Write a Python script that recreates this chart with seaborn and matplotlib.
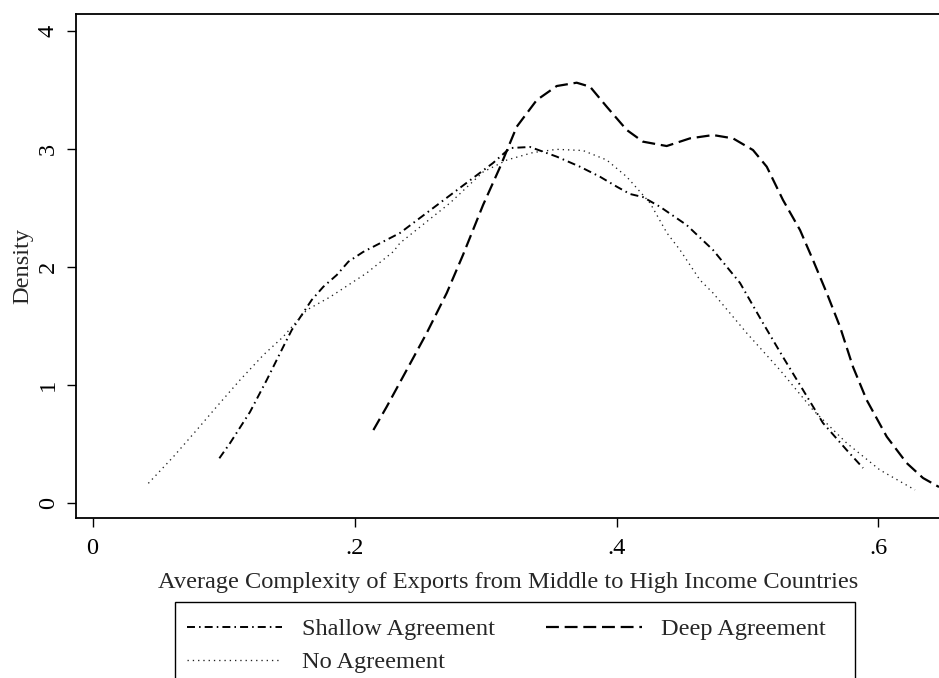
import matplotlib
matplotlib.use("Agg")
import matplotlib.pyplot as plt
import seaborn as sns
import pandas as pd
from matplotlib.patches import Rectangle

# ---- data ----
shallow_x = [0.0968, 0.1050, 0.1202, 0.1330, 0.1456, 0.1521, 0.1597, 0.1673, 0.1762,
             0.1864, 0.1953, 0.2065, 0.2347, 0.2752, 0.3057, 0.3187, 0.3340, 0.3544,
             0.3721, 0.3874, 0.4002, 0.4103, 0.4202, 0.4332, 0.4536, 0.4737, 0.4943,
             0.5118, 0.5271, 0.5424, 0.5576, 0.5757, 0.5882]
shallow_y = [0.381, 0.510, 0.773, 1.044, 1.325, 1.467, 1.594, 1.721, 1.833,
             1.932, 2.045, 2.127, 2.288, 2.626, 2.880, 3.007, 3.016, 2.934,
             2.849, 2.764, 2.680, 2.618, 2.592, 2.510, 2.355, 2.144, 1.865,
             1.526, 1.238, 0.959, 0.680, 0.451, 0.299]

deep_x = [0.2144, 0.2246, 0.2398, 0.2551, 0.2704, 0.2828, 0.2981, 0.3111, 0.3238,
          0.3391, 0.3544, 0.3696, 0.3798, 0.3925, 0.4078, 0.4202, 0.4383, 0.4561,
          0.4737, 0.4889, 0.5042, 0.5147, 0.5271, 0.5401, 0.5500, 0.5605, 0.5706,
          0.5805, 0.5910, 0.6063, 0.6215, 0.6340, 0.6462]
deep_y = [0.620, 0.818, 1.128, 1.441, 1.780, 2.102, 2.524, 2.846, 3.187,
          3.413, 3.532, 3.560, 3.526, 3.357, 3.160, 3.061, 3.024, 3.089,
          3.117, 3.089, 2.990, 2.849, 2.567, 2.313, 2.059, 1.780, 1.495,
          1.156, 0.874, 0.564, 0.341, 0.214, 0.138]

none_x = [0.0426, 0.0617, 0.0795, 0.0948, 0.1126, 0.1304, 0.1454, 0.1635, 0.1813,
          0.2093, 0.2296, 0.2347, 0.2729, 0.2981, 0.3164, 0.3363, 0.3544, 0.3744,
          0.3925, 0.4078, 0.4256, 0.4385, 0.4485, 0.4637, 0.4737, 0.4994, 0.5248,
          0.5500, 0.5757, 0.6011, 0.6279]
none_y = [0.169, 0.394, 0.620, 0.818, 1.044, 1.255, 1.408, 1.636, 1.746,
          1.949, 2.130, 2.203, 2.542, 2.804, 2.906, 2.969, 2.996, 2.986,
          2.906, 2.764, 2.542, 2.288, 2.144, 1.890, 1.780, 1.441, 1.128,
          0.790, 0.510, 0.282, 0.113]

x_ticks = [0, 0.2, 0.4, 0.6]
x_tick_labels = ["0", ".2", ".4", ".6"]
y_ticks = [0, 1, 2, 3, 4]
y_tick_labels = ["0", "1", "2", "3", "4"]
series_labels = ["Shallow Agreement", "Deep Agreement", "No Agreement"]
x_label = "Average Complexity of Exports from Middle to High Income Countries"
y_label = "Density"

# ---- style ----
sns.set_style("ticks")
plt.rcParams["font.family"] = ["Liberation Serif", "DejaVu Serif"]
FS = 17.6

fig = plt.figure(figsize=(9.39, 6.78), dpi=100)
ax = fig.add_axes([76.3 / 939, 1 - 518.3 / 678, 1 - 76.3 / 939, (518.3 - 14.3) / 678])

df_s = pd.DataFrame({"x": shallow_x, "y": shallow_y})
df_d = pd.DataFrame({"x": deep_x, "y": deep_y})
df_n = pd.DataFrame({"x": none_x, "y": none_y})

sns.lineplot(data=df_s, x="x", y="y", ax=ax, sort=False, estimator=None,
             color="black", lw=1.4, label=series_labels[0],
             linestyle=(0, (4.1, 2.1, 0.8, 2.1)))
sns.lineplot(data=df_d, x="x", y="y", ax=ax, sort=False, estimator=None,
             color="black", lw=1.6, label=series_labels[1],
             linestyle=(0, (5.8, 2.6)))
sns.lineplot(data=df_n, x="x", y="y", ax=ax, sort=False, estimator=None,
             color="#222222", lw=0.95, label=series_labels[2],
             linestyle=(0, (1, 3.0)))

ax.set_xlim(-0.0124, 0.6462)
ax.set_ylim(-0.127, 4.139)
ax.set_xticks(x_ticks)
ax.set_xticklabels(x_tick_labels)
ax.set_yticks(y_ticks)
ax.set_yticklabels(y_tick_labels, rotation=90, va="center")
ax.tick_params(axis="both", direction="out", length=6.5, width=1.0,
               labelsize=FS, color="black", labelcolor="black")
ax.tick_params(axis="x", pad=8)
ax.tick_params(axis="y", pad=6)
for side in ["left", "bottom", "top"]:
    ax.spines[side].set_linewidth(1.3)
    ax.spines[side].set_color("black")
ax.spines["right"].set_visible(False)

ax.set_xlabel(x_label, fontsize=FS, labelpad=9)
ax.set_ylabel(y_label, fontsize=FS, labelpad=3)

handles, labels = ax.get_legend_handles_labels()
order = [0, 2, 1]  # column-wise fill: Shallow, No | Deep
ax.legend([handles[i] for i in order], [labels[i] for i in order], ncol=2,
          loc="upper left",
          bbox_to_anchor=(187 / 939, 1 - 618 / 678), bbox_transform=fig.transFigure,
          frameon=False, fontsize=FS, handlelength=3.9, handletextpad=0.8,
          columnspacing=2.1, labelspacing=0.45, borderpad=0, borderaxespad=0)

fig.add_artist(Rectangle((175 / 939, -0.05), (855 - 175) / 939, (1 - 602 / 678) + 0.05,
                         transform=fig.transFigure, fill=False, edgecolor="black",
                         linewidth=1.0, clip_on=False))

fig.savefig("out.png", dpi=100, facecolor="white")
